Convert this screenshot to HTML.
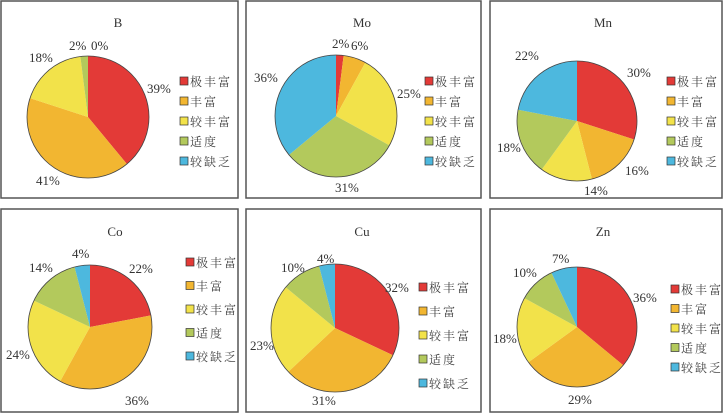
<!DOCTYPE html>
<html><head><meta charset="utf-8"><style>
body{margin:0;background:#fff;}
svg{display:block;font-family:"Liberation Serif","Noto Serif CJK SC",serif;}
</style></head><body>
<svg id="s" width="724" height="415" xmlns="http://www.w3.org/2000/svg">
<rect x="1" y="1" width="237" height="197" fill="none" stroke="#555" stroke-width="1.5"/>
<rect x="246" y="1" width="235" height="197" fill="none" stroke="#555" stroke-width="1.5"/>
<rect x="490" y="1" width="232" height="197" fill="none" stroke="#555" stroke-width="1.5"/>
<rect x="1" y="209" width="237" height="203" fill="none" stroke="#555" stroke-width="1.5"/>
<rect x="246" y="209" width="235" height="203" fill="none" stroke="#555" stroke-width="1.5"/>
<rect x="490" y="209" width="232" height="203" fill="none" stroke="#555" stroke-width="1.5"/>
</svg>
<script>
var C=["#e33a37","#f2b631","#f2e24a","#b3c95c","#4db8de"];
var L=["极丰富","丰富","较丰富","适度","较缺乏"];
var P=[
{t:"B",tx:118,ty:27,cx:88,cy:117,r:61,d:[39,41,18,2,0],lx:180,ly:81,ls:20,
 lab:[["39%",147,93],["41%",36,185],["18%",29,62],["2%",69,50],["0%",91,50]]},
{t:"Mo",tx:362,ty:27,cx:336,cy:116,r:61,d:[2,6,25,31,36],lx:425,ly:81,ls:20,
 lab:[["2%",332,48],["6%",351,50],["25%",397,98],["31%",335,192],["36%",254,82]]},
{t:"Mn",tx:603,ty:27,cx:577,cy:121,r:60,d:[30,16,14,18,22],lx:667,ly:81,ls:20,
 lab:[["30%",627,77],["16%",625,175],["14%",584,195],["18%",497,152],["22%",515,60]]},
{t:"Co",tx:115,ty:236,cx:90,cy:327,r:62,d:[22,36,24,14,4],lx:186,ly:262,ls:23.5,
 lab:[["22%",129,273],["36%",125,405],["24%",6,359],["14%",29,272],["4%",72,258]]},
{t:"Cu",tx:362,ty:236,cx:335,cy:328,r:64,d:[32,31,23,10,4],lx:419,ly:287,ls:24,
 lab:[["32%",385,292],["31%",312,405],["23%",250,350],["10%",281,272],["4%",317,263]]},
{t:"Zn",tx:603,ty:236,cx:577,cy:327,r:60,d:[36,29,18,10,7],lx:671,ly:289,ls:19.5,
 lab:[["36%",633,302],["29%",568,404],["18%",493,343],["10%",513,277],["7%",552,263]]}];
var h="";
P.forEach(function(p){
 h+='<text x="'+p.tx+'" y="'+p.ty+'" font-size="13" fill="#333" text-anchor="middle">'+p.t+'</text>';
 var a=0;
 p.d.forEach(function(v,i){
  if(v<=0)return;
  var a1=a+v/100*2*Math.PI;
  var x0=p.cx+p.r*Math.sin(a),y0=p.cy-p.r*Math.cos(a),x1=p.cx+p.r*Math.sin(a1),y1=p.cy-p.r*Math.cos(a1);
  h+='<path d="M'+p.cx+','+p.cy+'L'+x0.toFixed(2)+','+y0.toFixed(2)+'A'+p.r+','+p.r+' 0 '+(v>50?1:0)+' 1 '+x1.toFixed(2)+','+y1.toFixed(2)+'Z" fill="'+C[i]+'"/>';
  a=a1;});
 h+='<circle cx="'+p.cx+'" cy="'+p.cy+'" r="'+p.r+'" fill="none" stroke="#444" stroke-width="0.8"/>';
 p.lab.forEach(function(l){h+='<text x="'+l[1]+'" y="'+l[2]+'" font-size="13" fill="#333">'+l[0]+'</text>';});
 L.forEach(function(n,i){var y=p.ly+i*p.ls;
  h+='<rect x="'+p.lx+'" y="'+(y-4)+'" width="8" height="8" fill="'+C[i]+'" stroke="#333" stroke-width="0.7"/>';
  h+='<text x="'+(p.lx+10)+'" y="'+(y+5)+'" font-size="12" fill="#444" letter-spacing="2">'+n+'</text>';});
});
document.getElementById("s").insertAdjacentHTML("beforeend",h);
</script>
</body></html>
